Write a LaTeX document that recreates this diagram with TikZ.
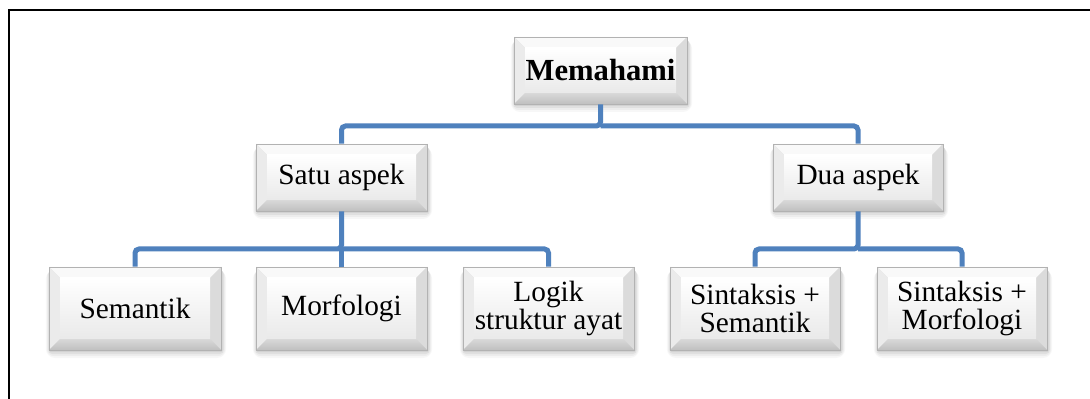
\documentclass[tikz,border=0pt]{standalone}
\usepackage{fontspec}
\setmainfont{Liberation Serif}
\usetikzlibrary{calc}
\definecolor{connblue}{RGB}{79,129,189}
\tikzset{
  connline/.style={draw=connblue, line width=3.75pt, rounded corners=3pt},
  boxtext/.style={align=center, font=\fontsize{22}{21}\selectfont, inner sep=0pt},
  frameline/.style={draw=black, line width=1.5pt},
}
% #1 name, #2 x1, #3 y1, #4 x2, #5 y2 (pixels, y down), #6 text
\newcommand\bevelbox[6]{%
  \foreach \s/\o in {7/0.03,5/0.04,3/0.05,1/0.06}{%
    \fill[black, opacity=\o, rounded corners=\s pt] (#2+1-\s*0.6, #3+3) rectangle (#4+1+\s*0.6, #5+1+\s);
  }
  \fill[gray!30] (#2,#3) rectangle (#4,#5);
  \fill[gray!5]  (#2,#3) -- (#4,#3) -- (#4-11,#3+11) -- (#2+11,#3+11) -- cycle;
  \fill[gray!16] (#2,#3) -- (#2+11,#3+11) -- (#2+11,#5-11) -- (#2,#5) -- cycle;
  \fill[gray!28] (#4,#3) -- (#4,#5) -- (#4-11,#5-11) -- (#4-11,#3+11) -- cycle;
  \shade[top color=gray!30, bottom color=gray!50] (#2,#5) -- (#4,#5) -- (#4-11,#5-11) -- (#2+11,#5-11) -- cycle;
  \shade[top color=white, bottom color=gray!17] (#2+11,#3+11) rectangle (#4-11,#5-11);
  \draw[gray!60, line width=0.6pt] (#2,#3) rectangle (#4,#5);
  \node[boxtext, minimum width={(#4-#2)*0.75pt}, minimum height={(#5-#3)*0.75pt}] (#1) at ({(#2+#4)/2},{(#3+#5)/2}) {#6};
}
\begin{document}
\begin{tikzpicture}[x=0.75pt, y=-0.75pt]
\useasboundingbox (0,0) rectangle (1090,399);
\fill[white] (0,0) rectangle (1090,399);
% frame (top and left only)
\draw[frameline] (9,399) -- (9,10) -- (1090,10);

\bevelbox{mem}{514}{37}{687}{104}{\fontsize{23}{22}\selectfont\textbf{Memahami}}
\bevelbox{satu}{256}{144}{427}{211}{Satu aspek}
\bevelbox{dua}{773}{144}{943}{211}{Dua aspek}
\bevelbox{sem}{49}{267}{221}{350}{Semantik}
\bevelbox{morf}{256}{267}{427}{350}{Morfologi}
\bevelbox{logik}{463}{267}{634}{350}{Logik\\struktur ayat}
\bevelbox{ss}{670}{267}{840}{350}{Sintaksis +\\Semantik}
\bevelbox{sm}{877}{267}{1047}{350}{Sintaksis +\\Morfologi}

\coordinate (bus1) at (600.5,126);
\coordinate (bus2) at (341.5,249);
\coordinate (bus3) at (858,249);

\draw[connline] (mem.south) -- (bus1) -| (satu.north);
\draw[connline] (bus1) -| (dua.north);
\draw[connline] (satu.south) -- (bus2) -| (sem.north);
\draw[connline] (bus2) -| (logik.north);
\draw[connline] (bus2) -- (morf.north);
\draw[connline] (dua.south) -- (bus3) -| (ss.north);
\draw[connline] (bus3) -| (sm.north);
\end{tikzpicture}
\end{document}
